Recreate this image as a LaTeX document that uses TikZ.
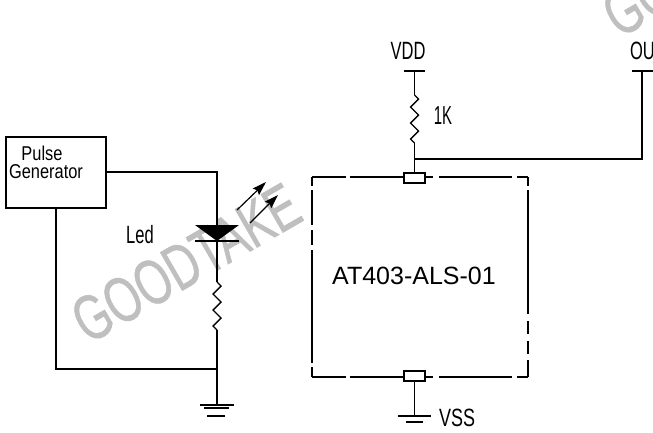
\documentclass[tikz,border=0pt]{standalone}
\usepackage{fontspec}
\setmainfont{Liberation Sans}
\newfontfamily\markfont[FakeBold=1]{Liberation Sans}
\usetikzlibrary{decorations.pathmorphing, positioning, calc, arrows.meta}

\begin{document}
\begin{tikzpicture}[
		x=1pt, y=-1pt,
		>={Stealth[length=14pt, width=9pt, inset=2pt]},
		wire/.style={line width=1.6pt},
		thinwire/.style={line width=1.2pt},
		resistor/.style={line width=1.4pt, decorate, decoration={zigzag, amplitude=4pt, segment length=16pt}},
		cadlabel/.style={inner sep=0pt, font=\fontsize{20}{20}\selectfont, xscale=0.82},
		railname/.style={inner sep=0pt, font=\fontsize{25}{25}\selectfont, xscale=0.66},
		icpin/.style={draw, line width=1.6pt, fill=white, inner sep=0pt, minimum width=21pt, minimum height=10pt},
		watermark/.style={inner sep=0pt, text=black!25, font=\markfont\fontsize{64}{64}\selectfont, rotate=30, xscale=0.7}
		]
		\useasboundingbox (0,0) rectangle (653,432);
		
		% ==========================================
		% WATERMARK
		% ==========================================
		\node[watermark] (mark) at (186,263) {GOODTAKE};
		\node[watermark] (markb) at (717,-43) {GOODTAKE};
		
		% ==========================================
		% PULSE GENERATOR AND LED
		% ==========================================
		\node[draw, wire, minimum width=100pt, minimum height=71pt, inner sep=0pt] (gen) at (56,172.5) {};
		\node[cadlabel] (pulse) at (42,153) {Pulse};
		\node[cadlabel] (generator) at (46,172) {Generator};
		\node[railname] (led) at (140,235) {Led};
		
		\coordinate (ledtop) at (217,225);
		\coordinate (ledbot) at (217,241);
		\coordinate (restop) at (217,282);
		\coordinate (resbot) at (217,330);
		\coordinate (gnd) at (217,369);
		\coordinate (earth) at (217,405);
		
		\draw[wire] (gen.east |- 0,172) -- (ledtop |- 0,172) -- (ledtop);
		\fill (195,225) -- (239,225) -- (ledbot) -- cycle;
		\draw[thinwire] (195,241) -- (239,241);
		\draw[wire] (ledbot) -- (restop);
		\draw[resistor] (restop) -- (resbot);
		\draw[wire] (resbot) -- (earth);
		\draw[wire] (gen.south -| 56,0) -- (56,369) -- (gnd);
		
		% Light rays
		\draw[->, thinwire] (237,210) -- (266,182);
		\draw[->, thinwire] (250,223) -- (278,195);
		
		% Earth
		\draw[thinwire] (200,405) -- (234,405);
		\draw[thinwire] (204,408) -- (229,408);
		\draw[thinwire] (207,416) -- (225,416);
		
		% ==========================================
		% AT403 PACKAGE
		% ==========================================
		\foreach \xa/\xb in {312/346, 350/433, 439/512, 517/528} {
			\draw[thinwire] (\xa,177) -- (\xb,177);
			\draw[thinwire] (\xa,377) -- (\xb,377);
		}
		\foreach \ya/\yb in {177/186, 190/225, 230/245, 250/363, 367/377}
			\draw[thinwire] (312,\ya) -- (312,\yb);
		\foreach \ya/\yb in {177/186, 190/314, 321/334, 341/354, 360/377}
			\draw[thinwire] (528,\ya) -- (528,\yb);
		
		\node[inner sep=0pt, font=\fontsize{25}{25}\selectfont] (chip) at (414,276) {AT403-ALS-01};
		\node[icpin] (pintop) at (414.5,178) {};
		\node[icpin] (pinbot) at (414.5,376) {};
		
		% ==========================================
		% SUPPLY AND OUTPUT
		% ==========================================
		\coordinate (vdd) at (414.5,71);
		\coordinate (rtop) at (414.5,95);
		\coordinate (rbot) at (414.5,143);
		\coordinate (tap) at (414.5,159);
		\coordinate (out) at (642,71);
		\coordinate (vss) at (414.5,416);
		
		\draw[wire] (404,71) -- (425,71);
		\draw[wire] (632,71) -- (653,71);
		\node[railname] (vddname) at (408,51) {VDD};
		\node[railname, anchor=west] (outname) at (630,51) {OU};
		
		\draw[wire] (vdd) -- (rtop);
		\draw[resistor] (rtop) -- (rbot);
		\draw[wire] (rbot) -- (pintop.north);
		\draw[wire] (tap) -- (out |- tap) -- (out);
		\node[railname, font=\fontsize{26}{26}\selectfont, xscale=0.87] (rval) at (443,116) {1K};
		
		\draw[wire] (pinbot.south) -- (vss);
		\draw[thinwire] (398,416) -- (431,416);
		\draw[thinwire] (406,422) -- (423,422);
		\node[railname, xscale=1.09] (vssname) at (457,418) {VSS};
		
	\end{tikzpicture}
\end{document}
